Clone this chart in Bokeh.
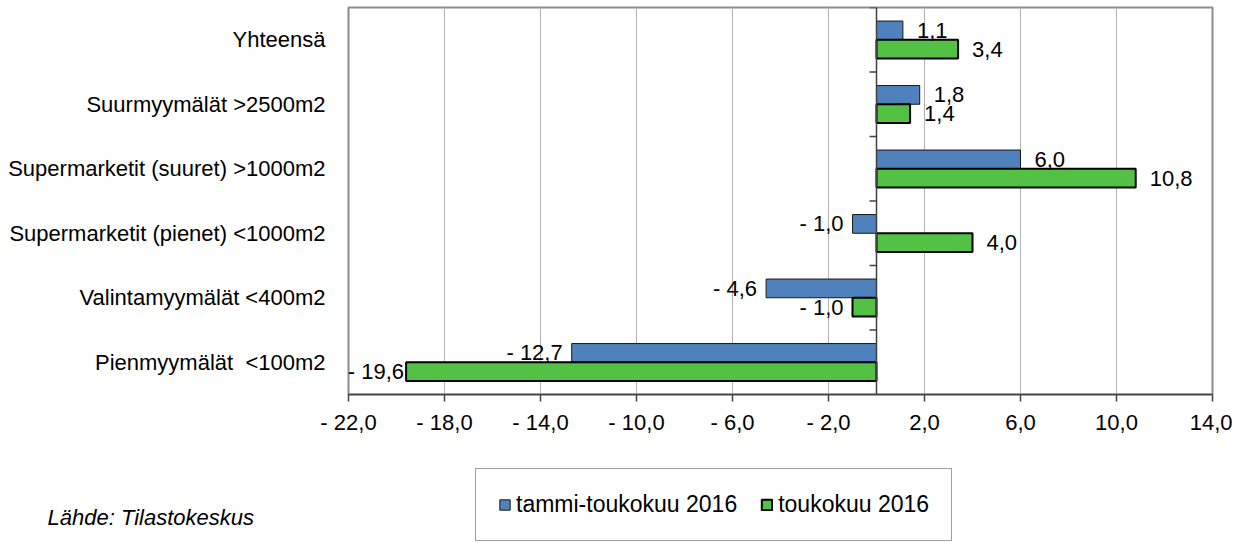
from bokeh.plotting import figure
from bokeh.layouts import column
from bokeh.models import (ColumnDataSource, FactorRange, FixedTicker, Span,
                          Legend, LegendItem, Label)
from bokeh.transform import dodge
from bokeh.core.properties import value
from bokeh.embed import file_html
from bokeh.resources import INLINE

# ---- data -------------------------------------------------------------
categories = ["Yhteensä", "Suurmyymälät >2500m2",
              "Supermarketit (suuret) >1000m2",
              "Supermarketit (pienet) <1000m2",
              "Valintamyymälät <400m2", "Pienmyymälät\u00a0 <100m2"]
series_names = ["tammi-toukokuu 2016", "toukokuu 2016"]
tammi_toukokuu = [1.1, 1.8, 6.0, -1.0, -4.6, -12.7]
toukokuu = [3.4, 1.4, 10.8, 4.0, -1.0, -19.6]
x_ticks = [-22, -18, -14, -10, -6, -2, 2, 6, 10, 14]
source_note = "Lähde: Tilastokeskus"


def fmt(v):
    s = f"{abs(v):.1f}".replace(".", ",")
    return ("- " + s) if v < 0 else s


FONT = "Liberation Sans"
FS = "22px"
BLUE = "#4F81BD"
GREEN = "#52C144"
DARK = "#404040"
X_MIN, X_MAX = -22, 14
W = 1232

p = figure(y_range=FactorRange(*reversed(categories)), x_range=(X_MIN, X_MAX),
           frame_width=864, frame_height=387,
           min_border_left=348, min_border_right=20,
           min_border_top=7, min_border_bottom=50,
           output_backend="svg", toolbar_location=None)
p.frame_align = False
p.background_fill_color = "white"
p.border_fill_color = "white"
p.outline_line_color = "#8C8C8C"
p.outline_line_width = 2

# grid
p.xgrid.ticker = FixedTicker(ticks=x_ticks, minor_ticks=[])
p.xgrid.grid_line_color = "#B3B3B3"
p.xgrid.grid_line_width = 1
p.ygrid.grid_line_color = None

# x axis
p.xaxis.ticker = FixedTicker(ticks=x_ticks, minor_ticks=[])
p.xaxis.major_label_overrides = {t: fmt(t) for t in x_ticks}
p.xaxis.axis_line_color = DARK
p.xaxis.axis_line_width = 1.5
p.xaxis.major_tick_line_color = DARK
p.xaxis.major_tick_line_width = 1.5
p.xaxis.major_tick_out = 7
p.xaxis.major_tick_in = 0
p.xaxis.minor_tick_line_color = None
p.xaxis.major_label_standoff = 8
p.xaxis.major_label_text_font = FONT
p.xaxis.major_label_text_font_size = FS
p.xaxis.major_label_text_color = "black"

# y axis (category labels at the left)
p.yaxis.axis_line_color = None
p.yaxis.major_tick_line_color = None
p.yaxis.major_tick_out = 0
p.yaxis.major_tick_in = 0
p.yaxis.minor_tick_line_color = None
p.yaxis.major_label_standoff = 23
p.yaxis.major_label_text_font = FONT
p.yaxis.major_label_text_font_size = FS
p.yaxis.major_label_text_color = "black"

# zero (category) axis line and boundary ticks
p.add_layout(Span(location=0, dimension="height", line_color=DARK, line_width=1.5))
tick_src = ColumnDataSource(dict(cat=categories))
p.segment(x0=0, x1=-0.29,
          y0=dodge("cat", 0.5, range=p.y_range),
          y1=dodge("cat", 0.5, range=p.y_range),
          source=tick_src, line_color=DARK, line_width=1.5)

# bars
src = ColumnDataSource(dict(cat=categories, a=tammi_toukokuu, b=toukokuu))
bar_a = dict(fill_color=BLUE, line_color="#1a1a1a", line_width=1)
bar_b = dict(fill_color=GREEN, line_color="black", line_width=2)
p.hbar(y=dodge("cat", 0.145, range=p.y_range), left=0, right="a",
       height=0.29, source=src, **bar_a)
p.hbar(y=dodge("cat", -0.145, range=p.y_range), left=0, right="b",
       height=0.29, source=src, **bar_b)

# data labels
for vals, off in ((tammi_toukokuu, 0.145), (toukokuu, -0.145)):
    for positive in (True, False):
        idx = [i for i, v in enumerate(vals) if (v >= 0) == positive]
        if positive:
            offs = [14 for i in idx]
        else:
            # keep the label inside the frame near the left edge
            offs = [-9 if vals[i] > X_MIN + 3 else -2 for i in idx]
        s = ColumnDataSource(dict(cat=[categories[i] for i in idx],
                                  v=[vals[i] for i in idx],
                                  t=[fmt(vals[i]) for i in idx],
                                  o=offs))
        p.text(x="v", y=dodge("cat", off, range=p.y_range), text="t",
               source=s, x_offset="o",
               text_align="left" if positive else "right",
               text_baseline="middle", text_font=value(FONT),
               text_font_size=FS, text_color="black")

# ---- lower strip: legend and source note --------------------------------
q = figure(y_range=FactorRange(*reversed(categories)), x_range=(X_MIN, X_MAX),
           width=W, height=98, min_border=0,
           x_axis_type=None, y_axis_type=None,
           output_backend="svg", toolbar_location=None)
q.frame_align = False
q.outline_line_color = None
q.xgrid.grid_line_color = None
q.ygrid.grid_line_color = None
q.background_fill_color = "white"
q.border_fill_color = "white"
l1 = q.hbar(y=dodge("cat", 0.145, range=q.y_range), left=0, right="a",
            height=0.29, source=src, visible=False, **bar_a)
l2 = q.hbar(y=dodge("cat", -0.145, range=q.y_range), left=0, right="b",
            height=0.29, source=src, visible=False, **bar_b)

legend = Legend(items=[LegendItem(label=series_names[0], renderers=[l1]),
                       LegendItem(label=series_names[1], renderers=[l2])],
                orientation="horizontal", location=(475, 1),
                label_text_font=FONT, label_text_font_size="23px",
                label_text_color="black",
                glyph_width=13, glyph_height=13, label_standoff=5,
                spacing=23, padding=22, margin=0,
                border_line_color=DARK, border_line_width=1,
                background_fill_color="white", background_fill_alpha=1,
                inactive_fill_alpha=0)
q.add_layout(legend)

q.add_layout(Label(x=47, y=25, x_units="screen", y_units="screen",
                   text=source_note, text_font=FONT, text_font_size=FS,
                   text_font_style="italic", text_baseline="middle",
                   text_color="black"))

open("out.html", "w").write(file_html(column(p, q, spacing=0), INLINE))
